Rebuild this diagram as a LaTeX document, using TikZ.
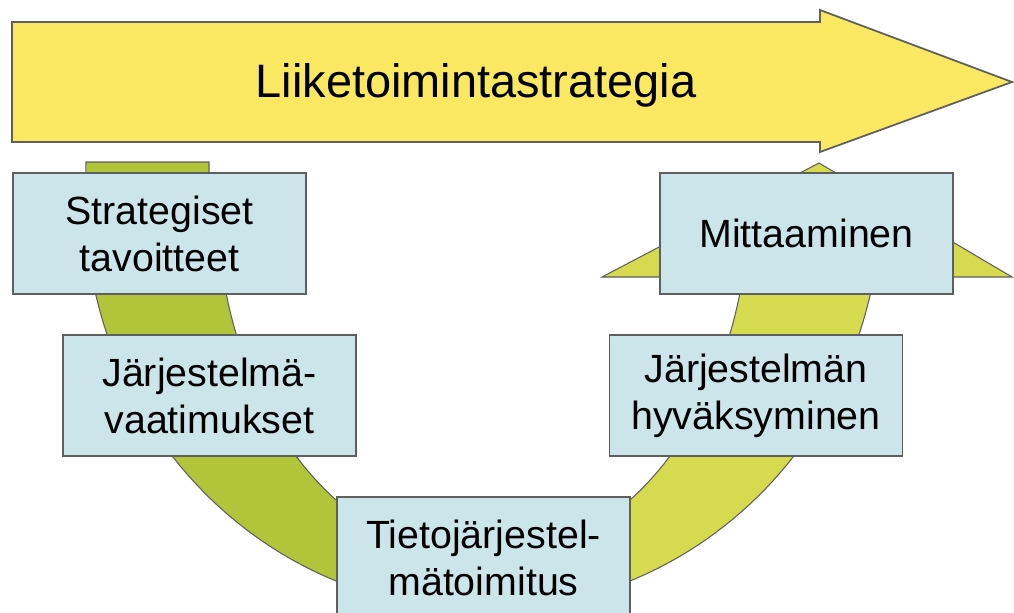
\documentclass[tikz,border=0pt]{standalone}
\usepackage{fontspec}
\setmainfont{Liberation Sans}
\usepackage{tikz}

\definecolor{arrowyellow}{RGB}{250,232,98}
\definecolor{boxblue}{RGB}{204,229,234}
\definecolor{bandgreen}{RGB}{176,197,58}
\definecolor{bandyellow}{RGB}{213,218,78}
\definecolor{edgegray}{RGB}{95,95,95}

\tikzset{
  stagebox/.style={draw=edgegray,line width=0.8pt,fill=boxblue,minimum width=5.86cm,minimum height=2.42cm,
    inner sep=0pt,align=center,font=\fontsize{22.4}{26.7}\selectfont},
  bandpart/.style={draw=edgegray,line width=0.6pt},
}

\begin{document}
\begin{tikzpicture}[x=0.02cm,y=-0.02cm]
\useasboundingbox (0,0) rectangle (1014,612);
\draw[edgegray,line width=1pt,fill=arrowyellow] (12,22) -- (820,22) -- (820,10) -- (1012,82) -- (820,152) -- (820,142) -- (12,142) -- cycle;
\node[anchor=base,font=\fontsize{26.7}{32}\selectfont] (strategia) at (476,97) {Liiketoimintastrategia};
\filldraw[bandpart,fill=bandgreen] (209,162) -- (86,162)
  -- plot[domain=183.78:90,samples=50] ({483+398*cos(\x)},{200+410*sin(\x)})
  -- plot[domain=90:184.3,samples=50] ({483+266*cos(\x)},{200+360*sin(\x)}) -- (209,173) -- cycle;
\filldraw[bandpart,fill=bandyellow] plot[domain=90:10.8,samples=50] ({483+398*cos(\x)},{200+410*sin(\x)})
  -- plot[domain=12.35:90,samples=50] ({483+266*cos(\x)},{200+360*sin(\x)}) -- cycle;
\filldraw[bandpart,fill=bandyellow] (602,277) -- (819,163) -- (1012,277) -- cycle;
\node[stagebox] (tavoitteet) at (159.5,233.5) {Strategiset\\tavoitteet};
\node[stagebox] (vaatimukset) at (209.5,395.5) {Järjestelmä-\\vaatimukset};
\node[stagebox] (toimitus) at (483.5,557.5) {Tietojärjestel-\\mätoimitus};
\node[stagebox] (hyvaksyminen) at (756,395.5) {Järjestelmän\\hyväksyminen};
\node[stagebox] (mittaaminen) at (806.5,233.5) {Mittaaminen};
\end{tikzpicture}
\end{document}
